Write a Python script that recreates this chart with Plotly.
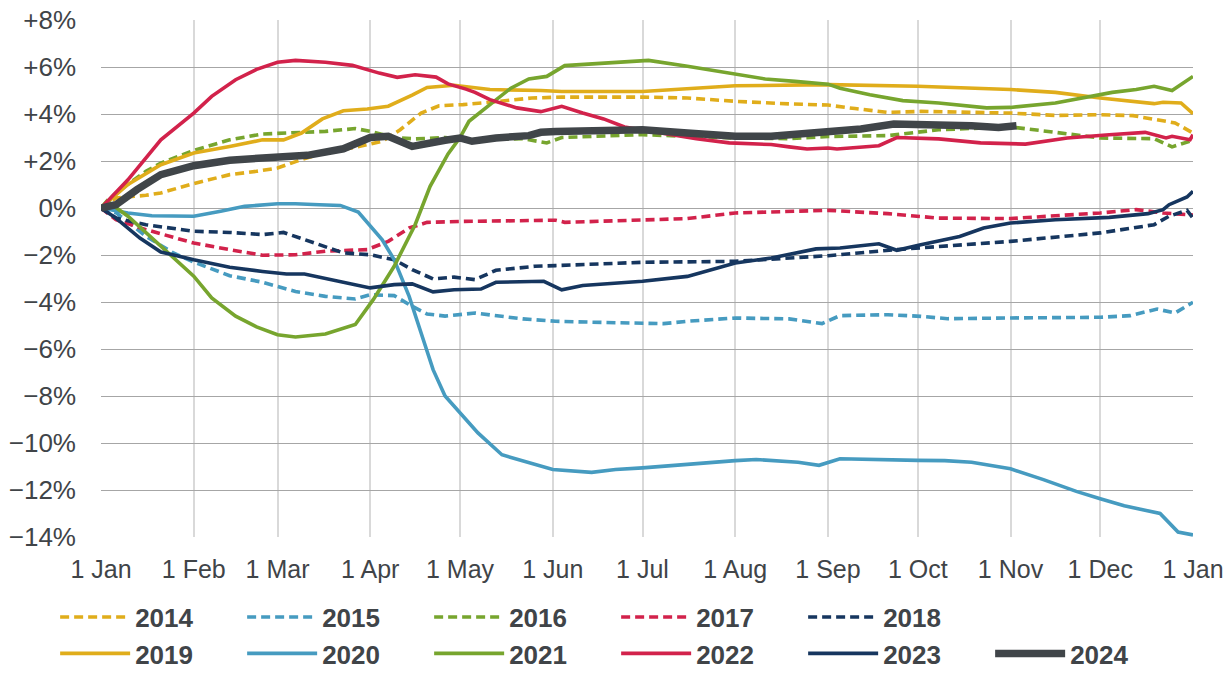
import plotly.graph_objects as go

BASE_YEAR = 2023

years = ["2014", "2015", "2016", "2017", "2018", "2019", "2020", "2021", "2022", "2023", "2024"]

dates_2014 = ["01-01", "01-06", "01-16", "01-21", "02-01", "02-13", "02-22", "03-01", "03-09", "03-17", "03-27",
              "04-05", "04-11", "04-18", "04-24", "05-02", "05-11", "05-25", "06-04", "07-01", "07-16", "08-01",
              "08-19", "09-01", "09-10", "09-21", "10-02", "11-01", "11-16", "12-01", "12-12", "12-19", "12-26", "01-01"]
vals_2014 = [0, 0.43, 0.54, 0.64, 1.04, 1.42, 1.56, 1.7, 2.06, 2.37, 2.58,
             2.84, 3.33, 4.04, 4.35, 4.4, 4.5, 4.68, 4.72, 4.72, 4.68, 4.54,
             4.43, 4.38, 4.23, 4.07, 4.11, 4.04, 3.94, 3.97, 3.93, 3.76, 3.62, 3.19]

dates_2015 = ["01-01", "01-06", "01-16", "01-25", "02-01", "02-13", "02-24", "03-07", "03-17", "03-27", "04-01",
              "04-09", "04-15", "04-20", "04-26", "05-02", "05-06", "05-22", "06-02", "06-18", "07-08", "07-16",
              "08-01", "08-19", "08-30", "09-05", "09-21", "10-02", "10-11", "11-01", "12-01", "12-11", "12-20",
              "12-26", "01-01"]
vals_2015 = [0, -0.2, -1.2, -1.9, -2.3, -2.88, -3.16, -3.55, -3.76, -3.87, -3.69,
             -3.73, -4.18, -4.51, -4.6, -4.5, -4.47, -4.72, -4.82, -4.87, -4.92, -4.82,
             -4.68, -4.72, -4.92, -4.58, -4.54, -4.61, -4.71, -4.68, -4.65, -4.58, -4.3,
             -4.47, -4.01]

dates_2016 = ["01-01", "01-06", "01-16", "01-21", "02-01", "02-13", "02-24", "03-07", "03-17", "03-27", "04-01",
              "04-09", "04-16", "04-26", "05-03", "05-22", "05-30", "06-04", "07-01", "08-01", "08-19", "09-01",
              "09-21", "10-08", "11-01", "11-16", "12-01", "12-19", "12-25", "12-31", "01-01"]
vals_2016 = [0, 0.64, 1.56, 1.91, 2.45, 2.9, 3.15, 3.22, 3.26, 3.38, 3.26,
             3.0, 2.94, 3.0, 2.9, 2.95, 2.77, 3.0, 3.12, 2.98, 2.95, 3.04,
             3.08, 3.33, 3.45, 3.22, 2.98, 2.95, 2.6, 2.84, 3.05]

dates_2017 = ["01-01", "01-06", "01-16", "02-01", "02-13", "02-24", "03-07", "03-17", "03-31", "04-07", "04-14",
              "04-20", "05-02", "06-02", "06-05", "07-01", "07-16", "08-01", "08-19", "09-01", "09-21", "10-08",
              "11-01", "12-01", "12-13", "12-22", "12-30", "01-01"]
vals_2017 = [0, -0.5, -0.92, -1.49, -1.77, -2.01, -1.99, -1.84, -1.77, -1.42, -0.85,
             -0.61, -0.57, -0.52, -0.61, -0.5, -0.45, -0.21, -0.14, -0.1, -0.24, -0.43,
             -0.45, -0.21, -0.07, -0.21, -0.28, -0.3]

dates_2018 = ["01-01", "01-06", "01-16", "02-01", "02-13", "02-24", "03-03", "03-12", "03-23", "04-01", "04-09",
              "04-15", "04-22", "04-29", "05-06", "05-13", "05-26", "06-02", "07-01", "08-01", "08-19", "09-01",
              "09-24", "11-01", "12-01", "12-19", "12-24", "12-30", "01-01"]
vals_2018 = [0, -0.43, -0.71, -0.99, -1.04, -1.13, -1.04, -1.42, -1.91, -1.99, -2.2,
             -2.62, -3.02, -2.94, -3.05, -2.65, -2.48, -2.45, -2.31, -2.27, -2.13, -2.03,
             -1.77, -1.42, -1.06, -0.71, -0.35, -0.1, -0.43]

dates_2019 = ["01-01", "01-10", "01-21", "02-01", "02-13", "02-24", "03-03", "03-09", "03-16", "03-23", "03-31",
              "04-07", "04-15", "04-20", "04-29", "05-11", "05-28", "06-04", "07-01", "08-01", "09-01", "10-01",
              "11-01", "11-16", "12-01", "12-19", "12-22", "12-28", "01-01"]
vals_2019 = [0, 1.0, 1.84, 2.34, 2.62, 2.9, 2.9, 3.19, 3.79, 4.14, 4.21,
             4.33, 4.8, 5.13, 5.22, 5.04, 5.0, 4.96, 4.96, 5.2, 5.25, 5.18,
             5.04, 4.92, 4.68, 4.44, 4.5, 4.47, 4.01]

dates_2020 = ["01-01", "01-10", "01-18", "02-01", "02-10", "02-18", "03-01", "03-07", "03-15", "03-22", "03-28",
              "04-05", "04-09", "04-14", "04-18", "04-22", "04-26", "05-03", "05-07", "05-15", "05-24", "06-01",
              "06-14", "06-22", "07-01", "07-14", "08-01", "08-08", "08-22", "08-29", "09-05", "10-01", "10-10",
              "10-19", "11-01", "11-12", "11-23", "12-01", "12-09", "12-21", "12-27", "01-01"]
vals_2020 = [0, -0.21, -0.33, -0.35, -0.14, 0.07, 0.18, 0.18, 0.14, 0.11, -0.17,
             -1.35, -2.2, -3.76, -5.32, -6.88, -8.0, -9.0, -9.57, -10.5, -10.82, -11.13,
             -11.25, -11.13, -11.06, -10.92, -10.75, -10.7, -10.82, -10.95, -10.67, -10.74, -10.75,
             -10.82, -11.1, -11.56, -12.06, -12.37, -12.67, -13.0, -13.79, -13.91]

dates_2021 = ["01-01", "01-03", "01-10", "01-21", "02-01", "02-07", "02-15", "02-22", "03-01", "03-07", "03-17",
              "03-27", "04-02", "04-09", "04-16", "04-21", "04-27", "05-01", "05-04", "05-11", "05-18", "05-24",
              "05-30", "06-05", "06-17", "07-03", "07-16", "07-31", "08-11", "08-21", "09-01", "09-05", "09-15",
              "09-26", "10-08", "10-24", "11-01", "11-16", "11-27", "12-05", "12-13", "12-19", "12-25", "01-01"]
vals_2021 = [0, 0.3, -0.35, -1.63, -2.9, -3.83, -4.6, -5.06, -5.39, -5.49, -5.36,
             -4.96, -3.9, -2.48, -0.71, 0.92, 2.3, 3.0, 3.69, 4.4, 5.1, 5.49,
             5.6, 6.06, 6.14, 6.28, 6.03, 5.74, 5.49, 5.39, 5.27, 5.1, 4.82,
             4.57, 4.47, 4.26, 4.28, 4.47, 4.72, 4.92, 5.04, 5.18, 5.0, 5.6]

dates_2022 = ["01-01", "01-10", "01-21", "02-01", "02-07", "02-15", "02-22", "03-01", "03-07", "03-17", "03-26",
              "04-04", "04-10", "04-16", "04-23", "04-27", "05-03", "05-06", "05-11", "05-20", "05-28", "06-04",
              "06-11", "06-18", "06-25", "07-01", "07-10", "07-19", "07-30", "08-13", "08-19", "08-25", "09-01",
              "09-04", "09-18", "09-24", "10-08", "10-22", "11-06", "11-20", "12-04", "12-16", "12-23", "12-25",
              "12-31", "01-01"]
vals_2022 = [0, 1.2, 2.9, 4.04, 4.75, 5.46, 5.9, 6.2, 6.28, 6.2, 6.07,
             5.74, 5.56, 5.67, 5.57, 5.28, 5.06, 4.92, 4.61, 4.26, 4.1, 4.33,
             4.04, 3.79, 3.45, 3.33, 3.15, 2.95, 2.77, 2.7, 2.6, 2.51, 2.55,
             2.51, 2.65, 3.0, 2.94, 2.77, 2.72, 2.98, 3.12, 3.22, 2.98, 3.05,
             2.9, 3.12]

dates_2023 = ["01-01", "01-06", "01-14", "01-21", "02-01", "02-13", "02-24", "03-04", "03-10", "03-17", "03-26",
              "04-01", "04-09", "04-15", "04-22", "04-29", "05-08", "05-13", "05-29", "06-04", "06-11", "07-01",
              "07-16", "08-01", "08-13", "08-28", "09-05", "09-18", "09-24", "10-02", "10-15", "10-23", "11-01",
              "11-16", "12-04", "12-17", "12-22", "12-24", "12-30", "01-01"]
vals_2023 = [0, -0.43, -1.28, -1.87, -2.2, -2.52, -2.7, -2.81, -2.81, -3.0, -3.22,
             -3.4, -3.26, -3.23, -3.57, -3.48, -3.45, -3.16, -3.12, -3.48, -3.3, -3.12,
             -2.91, -2.34, -2.13, -1.74, -1.7, -1.52, -1.8, -1.56, -1.21, -0.85, -0.64,
             -0.5, -0.4, -0.24, -0.07, 0.14, 0.47, 0.71]

dates_2024 = ["01-01", "01-06", "01-13", "01-21", "02-01", "02-13", "02-24", "03-07", "03-11", "03-23", "04-01",
              "04-07", "04-15", "04-26", "05-01", "05-05", "05-13", "05-24", "05-28", "06-02", "06-17", "07-01",
              "07-16", "08-01", "08-13", "08-23", "09-01", "09-03", "09-12", "09-23", "10-08", "10-19", "10-28",
              "11-03"]
vals_2024 = [0, 0.14, 0.78, 1.42, 1.8, 2.03, 2.13, 2.24, 2.24, 2.52, 3.0,
             3.05, 2.62, 2.88, 2.98, 2.84, 2.98, 3.08, 3.22, 3.26, 3.33, 3.33,
             3.19, 3.05, 3.05, 3.15, 3.3, 3.26, 3.36, 3.57, 3.55, 3.5, 3.43,
             3.5]

colors = {"2014": "#E0AD1B", "2015": "#469BC0", "2016": "#77A52E", "2017": "#D2224B", "2018": "#16365F",
          "2019": "#E0AD1B", "2020": "#469BC0", "2021": "#77A52E", "2022": "#D2224B", "2023": "#16365F",
          "2024": "#404549"}

month_ticks = ["2023-01-01", "2023-02-01", "2023-03-01", "2023-04-01", "2023-05-01", "2023-06-01", "2023-07-01",
               "2023-08-01", "2023-09-01", "2023-10-01", "2023-11-01", "2023-12-01", "2024-01-01"]
month_labels = ["1 Jan", "1 Feb", "1 Mar", "1 Apr", "1 May", "1 Jun", "1 Jul", "1 Aug", "1 Sep", "1 Oct",
                "1 Nov", "1 Dec", "1 Jan"]
y_ticks = [8, 6, 4, 2, 0, -2, -4, -6, -8, -10, -12, -14]
y_labels = ["+8%", "+6%", "+4%", "+2%", "0%", "\u22122%", "\u22124%", "\u22126%", "\u22128%", "\u221210%",
            "\u221212%", "\u221214%"]

series = {
    "2014": (dates_2014, vals_2014), "2015": (dates_2015, vals_2015), "2016": (dates_2016, vals_2016),
    "2017": (dates_2017, vals_2017), "2018": (dates_2018, vals_2018), "2019": (dates_2019, vals_2019),
    "2020": (dates_2020, vals_2020), "2021": (dates_2021, vals_2021), "2022": (dates_2022, vals_2022),
    "2023": (dates_2023, vals_2023), "2024": (dates_2024, vals_2024),
}


def to_dates(mmdd_list):
    out = []
    year = BASE_YEAR
    prev_month = 0
    for s in mmdd_list:
        m = int(s[:2])
        if m < prev_month:
            year += 1
        prev_month = m
        out.append(f"{year}-{s}")
    return out


FONT = "Liberation Sans, Arial, sans-serif"
TEXT = "#404448"

fig = go.Figure()
for y in years:
    d, v = series[y]
    dashed = int(y) <= 2018
    fig.add_trace(go.Scatter(
        x=to_dates(d), y=v, mode="lines", name=y,
        line=dict(color=colors[y], width=7.5 if y == "2024" else 3.6,
                  dash="9px,5px" if dashed else "solid"),
        legend="legend" if dashed else "legend2",
        hoverinfo="skip",
    ))

legend_common = dict(
    orientation="h", xanchor="left",
    font=dict(family=FONT, size=26, color=TEXT, weight="bold"),
    itemwidth=70, entrywidth=102, entrywidthmode="pixels",
    bgcolor="rgba(0,0,0,0)", borderwidth=0, tracegroupgap=0,
)

fig.update_layout(
    width=1232, height=677,
    margin=dict(l=101, r=39, t=20, b=140, autoexpand=False),
    paper_bgcolor="white", plot_bgcolor="white",
    font=dict(family=FONT, color=TEXT),
    showlegend=True,
    legend=dict(x=-0.042, y=-0.155, yanchor="middle", **legend_common),
    legend2=dict(x=-0.042, y=-0.2708, yanchor="bottom", **legend_common),
    xaxis=dict(
        type="date", range=["2023-01-01", "2024-01-01"], automargin=False,
        tickmode="array", tickvals=month_ticks, ticktext=month_labels,
        showgrid=True, gridcolor="#D9D9D9", gridwidth=1.5,
        zeroline=False, showline=False, ticks="",
        tickfont=dict(family=FONT, size=25, color=TEXT),
        ticklabelstandoff=15,
    ),
    yaxis=dict(
        range=[-14, 8], automargin=False, tickmode="array", tickvals=y_ticks, ticktext=y_labels,
        showgrid=True, gridcolor="#A6A6A6", gridwidth=1.4,
        zeroline=False, showline=False, ticks="",
        tickfont=dict(family=FONT, size=26, color=TEXT),
        ticklabelstandoff=24,
    ),
)

fig.write_html("out.html", config={"displayModeBar": False},
               post_script="document.body.style.margin='0px';")
